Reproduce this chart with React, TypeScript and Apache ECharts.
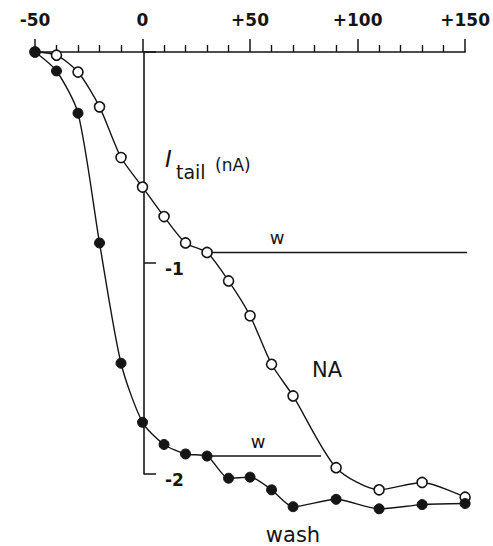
import React, { useEffect, useRef } from "react";
import * as echarts from "echarts";

// Membrane potential (mV) at which tail currents were sampled
const voltages = [-50, -40, -30, -20, -10, 0, 10, 20, 30, 40, 50, 60, 70, 90, 110, 130, 150];
// I_tail (nA) with noradrenaline (open circles)
const naValues = [0, -0.015, -0.095, -0.26, -0.5, -0.64, -0.78, -0.905, -0.95, -1.085, -1.25, -1.48, -1.63, -1.97, -2.075, -2.04, -2.11];
// I_tail (nA) after wash (filled circles)
const washValues = [0, -0.09, -0.29, -0.905, -1.475, -1.755, -1.86, -1.905, -1.915, -2.02, -2.015, -2.075, -2.155, -2.12, -2.165, -2.145, -2.14];
// "w" reference levels: [start mV, end mV, level nA]
const wNA = [30, 158, -0.95];
const wWash = [30, 83, -1.915];
// axis ticks
const xTicks = [-50, 0, 50, 100, 150];
const yTicks = [-2, -1, 0];

const FONT = "DejaVu Sans";
const INK = "#151515";

const GRID_LEFT = 35;
const GRID_RIGHT = 22;
const WIDTH = 493;

export default function App() {
  const ref = useRef<HTMLDivElement>(null);
  useEffect(() => {
    if (!ref.current) return;
    const chart = echarts.init(ref.current, undefined, { renderer: "svg" });
    const toPairs = (vals: number[]) => voltages.map((v, i) => [v, vals[i]]);
    const xMin = xTicks[0];
    const xMax = xTicks[xTicks.length - 1];
    const plotW = WIDTH - GRID_LEFT - GRID_RIGHT;
    // place the y axis at x = 0 mV
    const yOffset = -((0 - xMin) / (xMax - xMin)) * plotW;
    chart.setOption({
      animation: false,
      backgroundColor: "#ffffff",
      grid: { left: GRID_LEFT, right: GRID_RIGHT, top: 52, bottom: 72 },
      xAxis: {
        type: "value",
        position: "top",
        min: xMin,
        max: xMax,
        interval: 50,
        axisLine: { show: true, onZero: false, lineStyle: { color: INK, width: 1.6 } },
        axisTick: { show: true, inside: false, length: 13, lineStyle: { color: INK, width: 1.5 } },
        minorTick: { show: true, splitNumber: 5, length: 7, lineStyle: { color: INK, width: 1.4 } },
        splitLine: { show: false },
        minorSplitLine: { show: false },
        axisLabel: {
          margin: 24,
          color: INK,
          fontFamily: FONT,
          fontSize: 17,
          fontWeight: "bold",
          formatter: (v: number) => (v > 0 ? "+" + v : String(v)),
        },
      },
      yAxis: {
        type: "value",
        position: "left",
        offset: yOffset,
        min: yTicks[0],
        max: yTicks[yTicks.length - 1],
        interval: 1,
        axisLine: { show: true, onZero: false, lineStyle: { color: INK, width: 1.6 } },
        axisTick: { show: true, inside: true, length: 12, lineStyle: { color: INK, width: 1.5 } },
        splitLine: { show: false },
        axisLabel: {
          inside: true,
          margin: 21,
          color: INK,
          fontFamily: FONT,
          fontSize: 17,
          fontWeight: "bold",
          verticalAlign: "top",
          lineHeight: 12,
          formatter: (v: number) => (v === 0 ? "" : String(v)),
        },
      },
      series: [
        {
          type: "line",
          name: "w NA",
          data: [[wNA[0], wNA[2]], [wNA[1], wNA[2]]],
          symbol: "none",
          clip: false,
          lineStyle: { color: INK, width: 1.6 },
          z: 1,
        },
        {
          type: "line",
          name: "w wash",
          data: [[wWash[0], wWash[2]], [wWash[1], wWash[2]]],
          symbol: "none",
          clip: false,
          lineStyle: { color: INK, width: 1.6 },
          z: 1,
        },
        {
          type: "line",
          name: "NA",
          data: toPairs(naValues),
          smooth: 0.25,
          clip: false,
          symbol: "circle",
          symbolSize: 10,
          itemStyle: { color: "#ffffff", borderColor: INK, borderWidth: 1.6 },
          lineStyle: { color: INK, width: 1.4 },
          z: 2,
        },
        {
          type: "line",
          name: "wash",
          data: toPairs(washValues),
          smooth: 0.25,
          clip: false,
          symbol: "circle",
          symbolSize: 10,
          itemStyle: { color: INK, borderColor: INK, borderWidth: 1 },
          lineStyle: { color: INK, width: 1.4 },
          z: 3,
        },
      ],
      graphic: [
        { type: "text", x: 165, y: 159, style: { text: "I", font: `italic 23px "${FONT}"`, fill: INK, verticalAlign: "middle", textAlign: "left" } },
        { type: "text", x: 176, y: 172, style: { text: "tail", font: `19px "${FONT}"`, fill: INK, verticalAlign: "middle", textAlign: "left" } },
        { type: "text", x: 215, y: 165, style: { text: "(nA)", font: `17px "${FONT}"`, fill: INK, verticalAlign: "middle", textAlign: "left" } },
        { type: "text", x: 312, y: 370, style: { text: "NA", font: `21px "${FONT}"`, fill: INK, verticalAlign: "middle", textAlign: "left" } },
        { type: "text", x: 293, y: 535, style: { text: "wash", font: `21px "${FONT}"`, fill: INK, verticalAlign: "middle", textAlign: "center" } },
        { type: "text", x: 277, y: 237, style: { text: "w", font: `18px "${FONT}"`, fill: INK, verticalAlign: "middle", textAlign: "center" } },
        { type: "text", x: 258, y: 441, style: { text: "w", font: `18px "${FONT}"`, fill: INK, verticalAlign: "middle", textAlign: "center" } },
      ],
    });
    return () => chart.dispose();
  }, []);
  return (
    <div
      ref={ref}
      style={{ position: "fixed", left: 0, top: 0, width: 493, height: 546, background: "#fff" }}
    />
  );
}
